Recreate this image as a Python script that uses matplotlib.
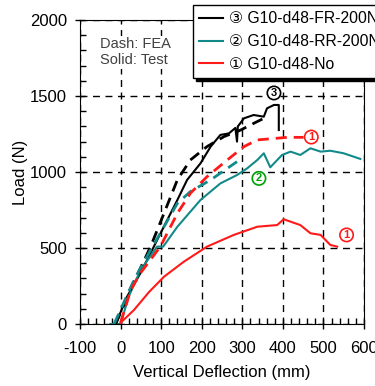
import matplotlib.pyplot as plt
import numpy as np

plt.rcParams['font.family'] = ['Liberation Sans', 'DejaVu Sans']
plt.rcParams['axes.unicode_minus'] = False

# test (solid) curves
fr_test_x = [-12, 16, 49, 82, 115, 140, 164, 197, 222, 246, 267, 283, 287, 289, 292, 304, 328, 353, 361, 378, 390, 390]
fr_test_y = [0, 180, 335, 509, 684, 816, 948, 1057, 1167, 1244, 1254, 1290, 1200, 1300, 1310, 1353, 1375, 1364, 1419, 1441, 1441, 1276]
rr_test_x = [-25, 0, 20, 49, 80, 90, 105, 140, 197, 246, 287, 312, 337, 353, 369, 398, 419, 443, 468, 493, 517, 550, 591]
rr_test_y = [0, 0, 180, 355, 470, 509, 509, 640, 816, 925, 980, 1024, 1079, 1123, 1031, 1112, 1134, 1112, 1156, 1134, 1140, 1123, 1086]
no_test_x = [0, 33, 70, 107, 156, 213, 279, 337, 386, 402, 443, 468, 493, 517, 534]
no_test_y = [8, 92, 210, 311, 410, 509, 586, 640, 651, 689, 651, 597, 586, 520, 509]

# FEA (dashed) curves
fr_fea_x = [-12, 30, 74, 107, 140, 172, 213, 255, 296, 328, 353]
fr_fea_y = [0, 260, 509, 728, 948, 1079, 1167, 1233, 1276, 1320, 1353]
rr_fea_x = [-16, 33, 74, 107, 140, 172, 222, 287]
rr_fea_y = [0, 289, 487, 640, 794, 871, 948, 1068]
no_fea_x = [0, 25, 49, 98, 140, 172, 213, 263, 304, 337, 411, 451]
no_fea_y = [8, 224, 335, 509, 728, 860, 969, 1079, 1167, 1211, 1228, 1228]

labels = ['③ G10-d48-FR-200N', '② G10-d48-RR-200N', '① G10-d48-No']
colors = ['black', '#138a8a', '#ff1a1a']

fig = plt.figure(figsize=(3.75, 3.86), dpi=100)
ax = fig.add_axes([80/375, 62/386, 284/375, 304/386])

ax.plot(fr_test_x, fr_test_y, color=colors[0], lw=1.5, label=labels[0])
ax.plot(rr_test_x, rr_test_y, color=colors[1], lw=1.5, label=labels[1])
ax.plot(no_test_x, no_test_y, color=colors[2], lw=1.5, label=labels[2])
ax.plot(fr_fea_x, fr_fea_y, color=colors[0], lw=2, ls=(0, (4, 2.5)))
ax.plot(rr_fea_x, rr_fea_y, color=colors[1], lw=2, ls=(0, (4, 2.5)))
ax.plot(no_fea_x, no_fea_y, color=colors[2], lw=2, ls=(0, (4, 2.5)))

ax.set_xlim(-100, 600)
ax.set_ylim(0, 2000)
ax.set_xticks(np.arange(-100, 601, 100))
ax.set_yticks(np.arange(0, 2001, 500))
ax.set_xticks(np.arange(-100, 601, 20), minor=True)
ax.set_yticks(np.arange(0, 2001, 100), minor=True)
ax.tick_params(which='major', direction='inout', length=7, width=1, labelsize=12)
ax.tick_params(axis='x', which='major', pad=9)
ax.tick_params(axis='y', which='major', pad=6)
ax.tick_params(which='minor', direction='in', length=4, width=1)
ax.grid(True, which='major', color='black', ls=(0, (5, 4)), lw=1)
ax.set_axisbelow(True)

ax.set_xlabel('Vertical Deflection (mm)', fontsize=12, labelpad=6)
ax.set_ylabel('Load (N)', fontsize=12, labelpad=1)

ax.text(-50, 1885, 'Dash: FEA\nSolid: Test', fontsize=10.5, color='#404040',
        va='top', linespacing=1.15, bbox=dict(fc='white', ec='none', pad=1))

circ = dict(boxstyle='circle,pad=0.15', fc='white', lw=1.2)
ax.text(378, 1520, '3', color='black', fontsize=8, fontweight='bold', ha='center', va='center',
        bbox=dict(circ, ec='black'))
ax.text(341, 958, '2', color='#00a000', fontsize=8, fontweight='bold', ha='center', va='center',
        bbox=dict(circ, ec='#00a000'))
ax.text(470, 1230, '1', color='#ff1a1a', fontsize=8, fontweight='bold', ha='center', va='center',
        bbox=dict(circ, ec='#ff1a1a'))
ax.text(557, 586, '1', color='#ff1a1a', fontsize=8, fontweight='bold', ha='center', va='center',
        bbox=dict(circ, ec='#ff1a1a'))

leg = fig.legend(loc='upper left', bbox_to_anchor=(193/375, 1 - 5/386), fontsize=11.3,
                 frameon=True, fancybox=False, shadow={'color': 'black', 'alpha': 1},
                 handlelength=1.5, handletextpad=0.4, borderpad=0.4, labelspacing=0.5,
                 borderaxespad=0)
leg.get_frame().set_edgecolor('black')
leg.get_frame().set_linewidth(1)

fig.savefig('out.png', dpi=100)
